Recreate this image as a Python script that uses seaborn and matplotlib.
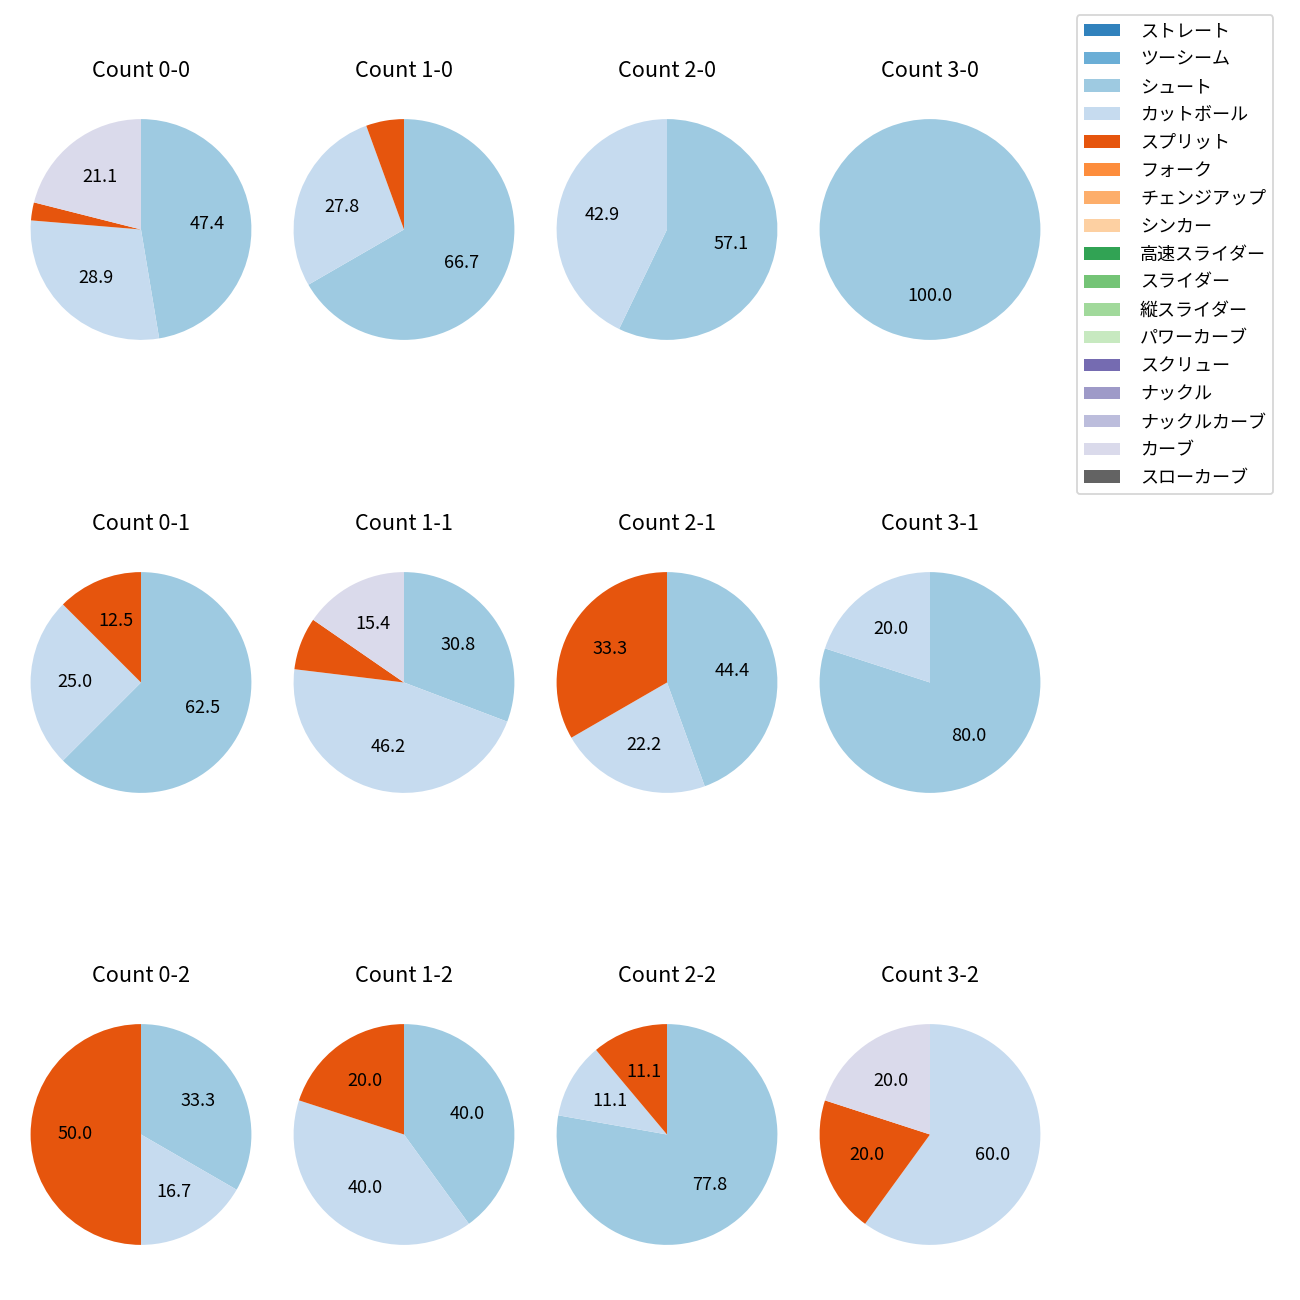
import matplotlib
matplotlib.use('Agg')
import matplotlib.pyplot as plt
import matplotlib.patches as mpatches
import seaborn as sns

# pitch types (legend order) and per-count pitch counts
pitch_types = ['ストレート', 'ツーシーム', 'シュート', 'カットボール', 'スプリット', 'フォーク',
               'チェンジアップ', 'シンカー', '高速スライダー', 'スライダー', '縦スライダー',
               'パワーカーブ', 'スクリュー', 'ナックル', 'ナックルカーブ', 'カーブ', 'スローカーブ']

counts = ['0-0', '1-0', '2-0', '3-0',
          '0-1', '1-1', '2-1', '3-1',
          '0-2', '1-2', '2-2', '3-2']

shoot = [18, 12, 4, 1, 5, 4, 4, 4, 2, 2, 7, 0]
cutter = [11, 5, 3, 0, 2, 6, 2, 1, 1, 2, 1, 3]
split = [1, 1, 0, 0, 1, 1, 3, 0, 3, 1, 1, 1]
curve = [8, 0, 0, 0, 0, 2, 0, 0, 0, 0, 0, 1]

series = {'シュート': shoot, 'カットボール': cutter, 'スプリット': split, 'カーブ': curve}

sns.set_style('white')
plt.rcParams['font.family'] = ['Noto Sans CJK JP', 'DejaVu Sans']
plt.rcParams['text.color'] = 'black'

palette = sns.color_palette('tab20c', 20)
colors = {p: palette[i] for i, p in enumerate(pitch_types)}

fig = plt.figure(figsize=(10, 10), dpi=130)
W, H = 1300.0, 1300.0
size = 276.0
col_x = [141, 404, 667, 930]
row_y = [229.5, 682.5, 1134.5]

for i, cnt in enumerate(counts):
    r, c = divmod(i, 4)
    cx, cy = col_x[c], row_y[r]
    ax = fig.add_axes([(cx - size / 2) / W, 1 - (cy + size / 2) / H, size / W, size / H])
    labels = [p for p in pitch_types if p in series and series[p][i] > 0]
    vals = [series[p][i] for p in labels]
    ax.pie(vals, colors=[colors[p] for p in labels], startangle=90, counterclock=False,
           autopct=lambda pct: f'{pct:.1f}' if pct >= 10 else '',
           wedgeprops={'linewidth': 0},
           textprops={'fontsize': 10, 'color': 'black'})
    ax.set_title(f'Count {cnt}', fontsize=12, pad=8, color='black')

handles = [mpatches.Patch(facecolor=colors[p], linewidth=0, label=p) for p in pitch_types]
leg = fig.legend(handles=handles, loc='upper left', bbox_to_anchor=(1076.7 / W, 1 - 15 / H),
                 borderaxespad=0, fontsize=10, labelspacing=0.55, handletextpad=1.1)
for t in leg.get_texts():
    t.set_color('black')

fig.savefig('out.png', dpi=130)
